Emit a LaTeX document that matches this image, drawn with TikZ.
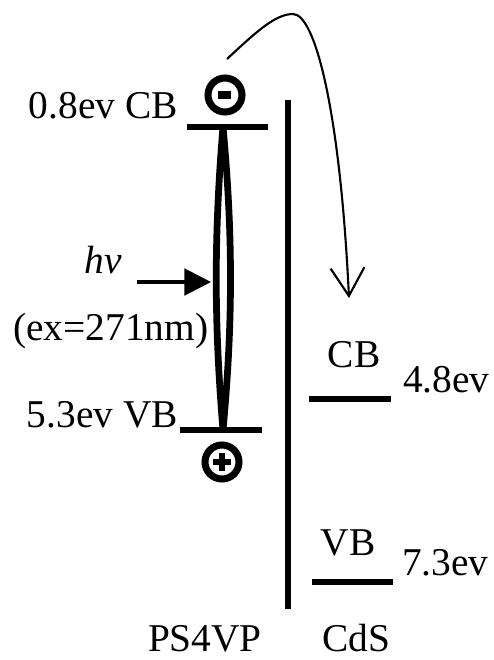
\documentclass[tikz,border=0pt]{standalone}
\usepackage{fontspec}
\setmainfont{Liberation Serif}
\usetikzlibrary{arrows.meta, positioning}
\tikzset{
	levelbar/.style={line width=4.3pt},
	lbl/.style={inner sep=0pt, font=\fontsize{28}{32}\selectfont},
}

\begin{document}
\begin{tikzpicture}[
		x=0.025cm, y=-0.025cm,
		charge/.style={draw, circle, line width=5pt, minimum size=0.85cm, inner sep=0pt},
		lens/.style={line width=4.8pt},
		>=Stealth
	]
	\useasboundingbox (0,0) rectangle (494,660);

	% PS4VP levels
	\coordinate (cbA) at (187,127);
	\coordinate (cbB) at (268,127);
	\coordinate (vbA) at (180,430);
	\coordinate (vbB) at (262,430);
	\coordinate (cbMid) at (223,127);
	\coordinate (vbMid) at (223,430);
	\draw[levelbar] (cbA) -- (cbB);
	\draw[levelbar] (vbA) -- (vbB);
	\node[lbl, anchor=base east] (cbLbl) at (178,118) {0.8ev CB};
	\node[lbl, anchor=base east] (vbLbl) at (178,427) {5.3ev VB};

	% excitation
	\draw[lens] (cbMid) .. controls (214,235) and (214,322) .. (vbMid);
	\draw[lens] (cbMid) .. controls (233,235) and (233,322) .. (vbMid);
	\node[lbl, anchor=base] (hv) at (103,273) {\textit{hv}};
	\node[lbl, anchor=base west] (ex) at (13,340) {(ex=271nm)};
	\coordinate (hvFrom) at (137,282);
	\coordinate (hvTo) at (211,282);
	\draw[-{Triangle[length=19pt, width=19pt]}, line width=2.2pt] (hvFrom) -- (hvTo);

	% charges
	\node[charge] (minus) at (225,95) {};
	\fill (218,91) rectangle (231,99);
	\node[charge] (plus) at (222,462) {};
	\draw[line width=4.3pt] (213,462) -- (231,462) (222,453) -- (222,471);

	% interface
	\coordinate (wallTop) at (288,100);
	\coordinate (wallBot) at (288,609);
	\draw[line width=3.6pt] (wallTop) -- (wallBot);

	% CdS levels
	\coordinate (cdsCbA) at (309,399);
	\coordinate (cdsCbB) at (391,399);
	\coordinate (cdsVbA) at (312,582);
	\coordinate (cdsVbB) at (393,582);
	\draw[levelbar] (cdsCbA) -- (cdsCbB);
	\draw[levelbar] (cdsVbA) -- (cdsVbB);
	\node[lbl, anchor=base] (cdsCb) at (354,367) {CB};
	\node[lbl, anchor=base west] (cdsCbE) at (403,392) {4.8ev};
	\node[lbl, anchor=base] (cdsVb) at (348,555) {VB};
	\node[lbl, anchor=base west] (cdsVbE) at (402,575) {7.3ev};

	% electron transfer
	\coordinate (eStart) at (227,59);
	\coordinate (ePeak) at (293,14);
	\coordinate (eEnd) at (349,298);
	\draw[line width=1.5pt, -{Straight Barb[length=20pt, width=24pt, line width=1.5pt]}]
		(eStart) .. controls (255,33) and (275,14) .. (ePeak)
		.. controls (315,14) and (340,110) .. (eEnd);

	% materials
	\node[lbl, anchor=base] (ps) at (205,651) {PS4VP};
	\node[lbl, anchor=base] (cds) at (356,651) {CdS};
\end{tikzpicture}
\end{document}
